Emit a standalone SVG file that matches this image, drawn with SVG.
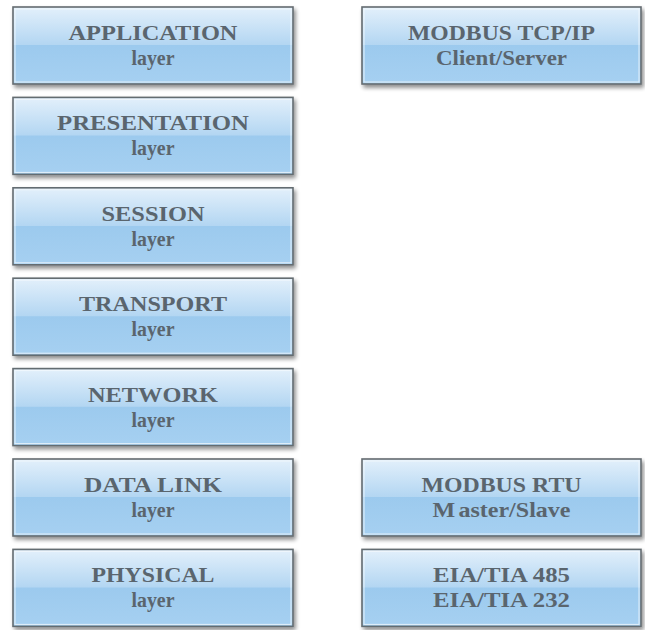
<svg xmlns="http://www.w3.org/2000/svg" width="645" height="630" viewBox="0 0 645 630">
  <defs>
    <linearGradient id="gloss" x1="0" y1="0" x2="0" y2="1">
      <stop offset="0" stop-color="#e3f0fb"/>
      <stop offset="0.49" stop-color="#b3d6f2"/>
      <stop offset="0.5" stop-color="#9ccaee"/>
      <stop offset="1" stop-color="#a6d0f1"/>
    </linearGradient>
    <filter id="shadow" x="-5%" y="-10%" width="112%" height="130%">
      <feGaussianBlur in="SourceAlpha" stdDeviation="2"/>
      <feOffset dx="2" dy="3" result="b"/>
      <feComponentTransfer><feFuncA type="linear" slope="0.45"/></feComponentTransfer>
      <feMerge><feMergeNode/><feMergeNode in="SourceGraphic"/></feMerge>
    </filter>
    <g id="boxL">
      <rect x="0" y="0" width="280" height="77" fill="url(#gloss)" stroke="#646c71" stroke-width="1.6" filter="url(#shadow)"/>
      <rect x="2" y="2" width="276" height="73" fill="none" stroke="#f4f9fd" stroke-width="1" opacity="0.8"/>
    </g>
    <g id="boxR">
      <rect x="0" y="0" width="279" height="77" fill="url(#gloss)" stroke="#646c71" stroke-width="1.6" filter="url(#shadow)"/>
      <rect x="2" y="2" width="275" height="73" fill="none" stroke="#f4f9fd" stroke-width="1" opacity="0.8"/>
    </g>
  </defs>
  <style>
    text { font-family: "Liberation Serif", "Times New Roman", serif; font-weight: bold; font-size: 22px; fill: #5a656e; text-anchor: middle; }
  </style>
  <rect width="645" height="630" fill="#ffffff"/>

  <!-- OSI layers -->
  <g id="application" transform="translate(13,7)">
    <use href="#boxL"/>
    <text x="140" y="33" textLength="169" lengthAdjust="spacingAndGlyphs">APPLICATION</text>
    <text x="140" y="58" textLength="43" lengthAdjust="spacingAndGlyphs">layer</text>
  </g>
  <g id="presentation" transform="translate(13,97.4)">
    <use href="#boxL"/>
    <text x="140" y="33" textLength="192" lengthAdjust="spacingAndGlyphs">PRESENTATION</text>
    <text x="140" y="58" textLength="43" lengthAdjust="spacingAndGlyphs">layer</text>
  </g>
  <g id="session" transform="translate(13,187.8)">
    <use href="#boxL"/>
    <text x="140" y="33" textLength="103" lengthAdjust="spacingAndGlyphs">SESSION</text>
    <text x="140" y="58" textLength="43" lengthAdjust="spacingAndGlyphs">layer</text>
  </g>
  <g id="transport" transform="translate(13,278.2)">
    <use href="#boxL"/>
    <text x="140" y="33" textLength="148" lengthAdjust="spacingAndGlyphs">TRANSPORT</text>
    <text x="140" y="58" textLength="43" lengthAdjust="spacingAndGlyphs">layer</text>
  </g>
  <g id="network" transform="translate(13,368.6)">
    <use href="#boxL"/>
    <text x="140" y="33" textLength="130" lengthAdjust="spacingAndGlyphs">NETWORK</text>
    <text x="140" y="58" textLength="43" lengthAdjust="spacingAndGlyphs">layer</text>
  </g>
  <g id="datalink" transform="translate(13,459)">
    <use href="#boxL"/>
    <text x="140" y="33" textLength="138" lengthAdjust="spacingAndGlyphs">DATA LINK</text>
    <text x="140" y="58" textLength="43" lengthAdjust="spacingAndGlyphs">layer</text>
  </g>
  <g id="physical" transform="translate(13,549.4)">
    <use href="#boxL"/>
    <text x="140" y="33" textLength="123" lengthAdjust="spacingAndGlyphs">PHYSICAL</text>
    <text x="140" y="58" textLength="43" lengthAdjust="spacingAndGlyphs">layer</text>
  </g>

  <!-- Modbus stack -->
  <g id="modbus-tcp" transform="translate(362,7)">
    <use href="#boxR"/>
    <text x="139.5" y="33" textLength="187" lengthAdjust="spacingAndGlyphs">MODBUS TCP/IP</text>
    <text x="139.5" y="58" textLength="131" lengthAdjust="spacingAndGlyphs">Client/Server</text>
  </g>
  <g id="modbus-rtu" transform="translate(362,459)">
    <use href="#boxR"/>
    <text x="139.5" y="33" textLength="160" lengthAdjust="spacingAndGlyphs">MODBUS RTU</text>
    <text x="139.5" y="58" textLength="138" lengthAdjust="spacingAndGlyphs">M<tspan dx="3">aster/Slave</tspan></text>
  </g>
  <g id="eia-tia" transform="translate(362,549.4)">
    <use href="#boxR"/>
    <text x="139.5" y="33" textLength="137" lengthAdjust="spacingAndGlyphs">EIA/TIA 485</text>
    <text x="139.5" y="58" textLength="137" lengthAdjust="spacingAndGlyphs">EIA/TIA 232</text>
  </g>

  <g id="connectors"/>
</svg>
